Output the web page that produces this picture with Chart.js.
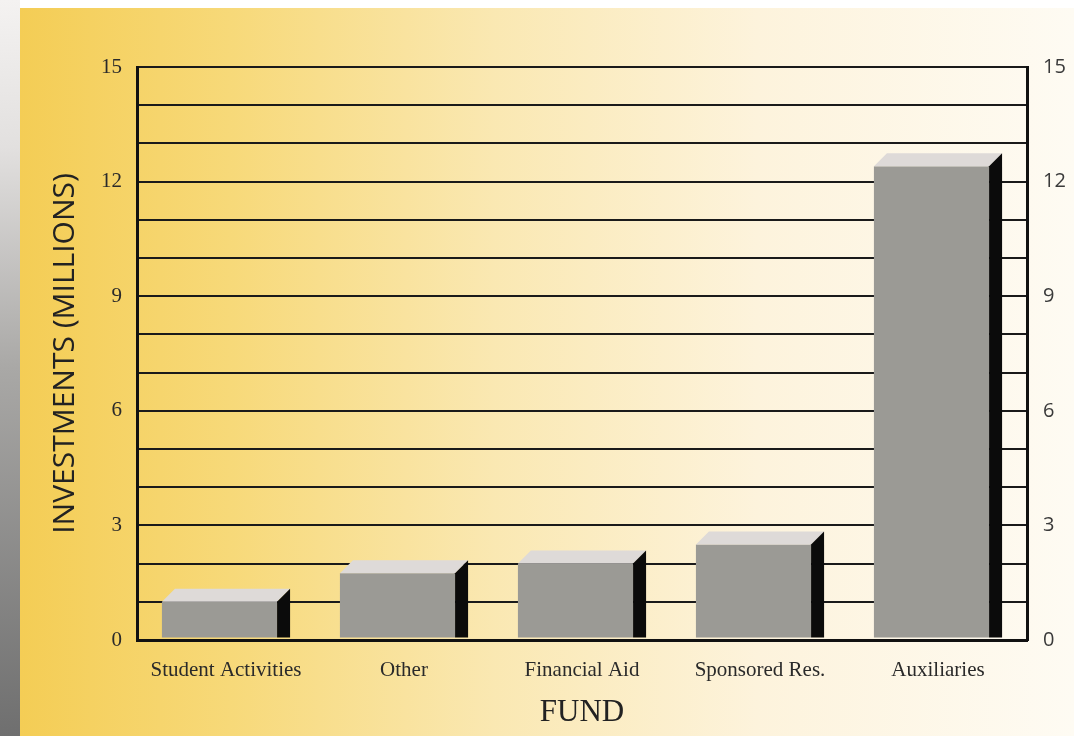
<!DOCTYPE html>
<html lang="en">
<head>
    <meta charset="UTF-8">
    <title>Investments by Fund</title>
    <script src="https://cdn.jsdelivr.net/npm/chart.js@4.4.1/dist/chart.umd.min.js"></script>
    <style>
        body { margin: 0; background: #fff; }
        canvas { display: block; }
    </style>
</head>
<body>
    <canvas id="fundChart" width="1074" height="736"></canvas>

    <script>
        const funds = ["Student Activities", "Other", "Financial Aid", "Sponsored Res.", "Auxiliaries"];
        const investments = [1.0, 1.75, 2.0, 2.5, 12.4];
        const yLabels = [0, 3, 6, 9, 12, 15];

        const serif = "'Liberation Serif', 'DejaVu Serif', serif";
        const sans = "'Open Sans', 'DejaVu Sans', sans-serif";

        // page backdrop: grey photo strip on the left, yellow panel fading to white
        const backdrop = {
            id: "backdrop",
            beforeDraw(chart) {
                const ctx = chart.ctx;
                const w = chart.width, h = chart.height;
                ctx.save();
                ctx.fillStyle = "#ffffff";
                ctx.fillRect(0, 0, w, h);

                let strip = ctx.createLinearGradient(0, 0, 0, h);
                strip.addColorStop(0, "#f4f2f1");
                strip.addColorStop(0.2, "#e2e0df");
                strip.addColorStop(0.5, "#a9a8a6");
                strip.addColorStop(1, "#6f6f6f");
                ctx.fillStyle = strip;
                ctx.fillRect(0, 0, 20, h);

                let panel = ctx.createLinearGradient(20, 0, w, 0);
                panel.addColorStop(0, "#f4cd55");
                panel.addColorStop(0.2, "#f7d979");
                panel.addColorStop(0.45, "#fae8b2");
                panel.addColorStop(0.7, "#fdf3dc");
                panel.addColorStop(1, "#fefbf3");
                ctx.fillStyle = panel;
                ctx.fillRect(20, 8, w - 20, h - 8);
                ctx.restore();
            }
        };

        // draws each bar as a box: grey front, light top, black side
        const boxes = {
            id: "boxes",
            afterDatasetsDraw(chart) {
                const ctx = chart.ctx;
                const meta = chart.getDatasetMeta(0);
                const d = 13;
                ctx.save();
                meta.data.forEach(bar => {
                    const p = bar.getProps(["x", "y", "base", "width"], true);
                    const left = p.x - p.width / 2;
                    const right = p.x + p.width / 2;
                    const frontRight = right - d;
                    const base = p.base - 1.5;

                    ctx.fillStyle = "#9b9a95";
                    ctx.fillRect(left, p.y, frontRight - left, base - p.y);

                    ctx.fillStyle = "#dedad8";
                    ctx.beginPath();
                    ctx.moveTo(left, p.y);
                    ctx.lineTo(left + d, p.y - d);
                    ctx.lineTo(right, p.y - d);
                    ctx.lineTo(frontRight, p.y);
                    ctx.closePath();
                    ctx.fill();

                    ctx.fillStyle = "#0b0b0b";
                    ctx.beginPath();
                    ctx.moveTo(frontRight, p.y);
                    ctx.lineTo(right, p.y - d);
                    ctx.lineTo(right, base);
                    ctx.lineTo(frontRight, base);
                    ctx.closePath();
                    ctx.fill();
                });
                ctx.restore();
            }
        };

        const ctx = document.getElementById("fundChart").getContext("2d");
        new Chart(ctx, {
            type: "bar",
            data: {
                labels: funds,
                datasets: [{
                    data: investments,
                    backgroundColor: "rgba(0,0,0,0)",
                    barPercentage: 0.72,
                    categoryPercentage: 1
                }]
            },
            options: {
                responsive: false,
                animation: false,
                layout: { padding: { left: 20, top: 67, right: 0, bottom: 0 } },
                plugins: {
                    legend: { display: false },
                    tooltip: { enabled: false }
                },
                scales: {
                    x: {
                        position: "bottom",
                        grid: { display: false },
                        border: { display: true, color: "#111", width: 3 },
                        ticks: {
                            color: "#2a2a2a",
                            font: { family: serif, size: 21 },
                            padding: 10,
                            maxRotation: 0
                        },
                        title: {
                            display: true,
                            text: "FUND",
                            color: "#222",
                            font: { family: serif, size: 31 },
                            padding: { top: 0, bottom: 5 }
                        },
                        afterFit(scale) { scale.height = 96; }
                    },
                    y: {
                        position: "left",
                        min: 0,
                        max: 15,
                        grid: { color: "#1a1a1a", lineWidth: 2, drawTicks: false },
                        border: { display: true, color: "#111", width: 3 },
                        ticks: {
                            stepSize: 1,
                            color: "#2a2a2a",
                            font: { family: serif, size: 21 },
                            padding: 15,
                            callback: v => yLabels.includes(v) ? v : ""
                        },
                        title: {
                            display: true,
                            text: "INVESTMENTS (MILLIONS)",
                            color: "#222",
                            font: { family: sans, size: 30 },
                            padding: { top: 27, bottom: 0 }
                        },
                        afterFit(scale) { scale.width = 117; }
                    },
                    y2: {
                        position: "right",
                        min: 0,
                        max: 15,
                        grid: { display: false },
                        border: { display: true, color: "#111", width: 3 },
                        ticks: {
                            stepSize: 3,
                            color: "#3a3a3a",
                            font: { family: sans, size: 20 },
                            padding: 8
                        },
                        afterFit(scale) { scale.width = 47; }
                    }
                }
            },
            plugins: [backdrop, boxes]
        });
    </script>
</body>
</html>
